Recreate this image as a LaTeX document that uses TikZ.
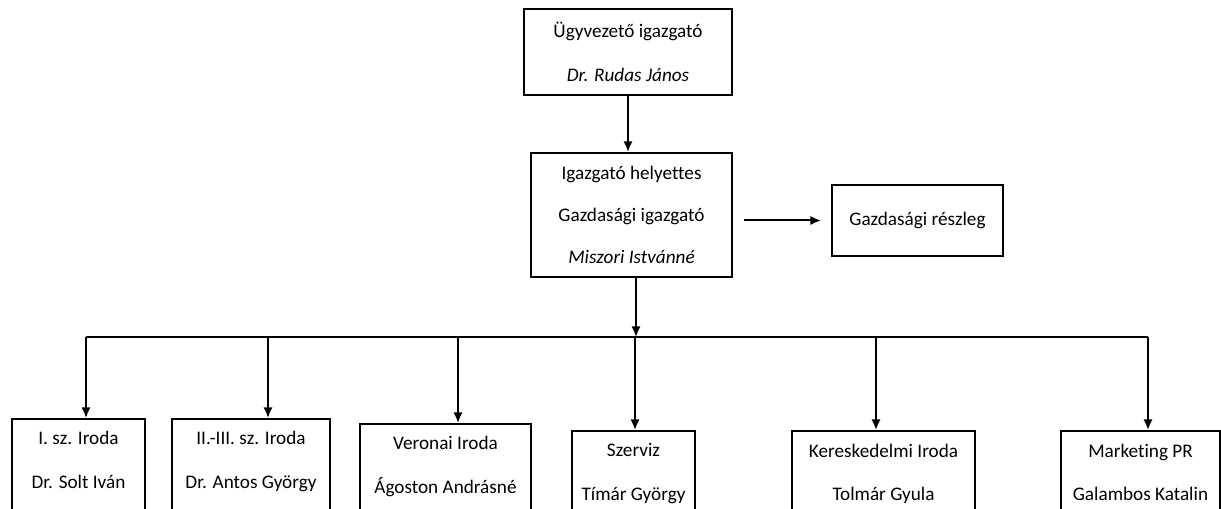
\documentclass[tikz,border=0pt]{standalone}
\usepackage{fontspec}
\setmainfont{Carlito}[Ligatures=NoCommon]
\usetikzlibrary{positioning}
\usetikzlibrary{arrows.meta}
\tikzset{
  box/.style={draw=black, line width=1.5pt, align=center, inner sep=0pt, font=\fontsize{14.4}{33}\selectfont},
  unit/.style={box, anchor=north, inner ysep=9.5pt},
  link/.style={line width=1.5pt, -{Latex[length=8pt,width=7pt]}}
}

\begin{document}
\begin{tikzpicture}[x=0.75pt, y=-0.75pt]
\useasboundingbox (0,0) rectangle (1221,509);
\clip (0,0) rectangle (1221,509);
\node[box, minimum width=156pt, minimum height=64.5pt] (ceo) at (628,52) {Ügyvezető igazgató\\\textit{Dr. Rudas János}};
\node[box, minimum width=150.75pt, minimum height=93pt, font=\fontsize{14.4}{31.5}\selectfont] (deputy) at (631.5,215) {Igazgató helyettes\\Gazdasági igazgató\\\textit{Miszori Istvánné}};
\node[box, minimum width=128.25pt, minimum height=53.25pt] (econ) at (917.5,220.5) {Gazdasági részleg};
\node[unit, minimum width=99.75pt] (unit1) at (78.5,418) {I. sz. Iroda\\Dr. Solt Iván\\\mbox{}};
\node[unit, minimum width=118.5pt] (unit2) at (251,418) {II.-III. sz. Iroda\\Dr. Antos György\\\mbox{}};
\node[unit, minimum width=128.25pt] (unit3) at (445.5,423) {Veronai Iroda\\Ágoston Andrásné\\\mbox{}};
\node[unit, minimum width=92.25pt] (unit4) at (633.5,430) {Szerviz\\Tímár György\\\mbox{}};
\node[unit, minimum width=137.25pt] (unit5) at (883.5,430) {Kereskedelmi Iroda\\Tolmár Gyula\\\mbox{}};
\node[unit, minimum width=119.25pt] (unit6) at (1140.5,430) {Marketing PR\\Galambos Katalin\\\mbox{}};
\coordinate (hub) at (636,337);
\coordinate (b1) at (86,337);
\coordinate (b2) at (268,337);
\coordinate (b3) at (458,337);
\coordinate (b4) at (635,337);
\coordinate (b5) at (876,337);
\coordinate (b6) at (1148,337);
\draw[link] (ceo.south) -- (ceo.south |- deputy.north);
\draw[link, shorten <=8.25pt, shorten >=7.5pt] (econ.west -| deputy.east) -- (econ.west);
\draw[link] (deputy.south -| hub) -- (hub);
\draw[line width=1.5pt] (b1) -- (b6);
\foreach \i in {1,...,6}
  \draw[link] (b\i) -- (b\i |- unit\i.north);
\end{tikzpicture}
\end{document}
